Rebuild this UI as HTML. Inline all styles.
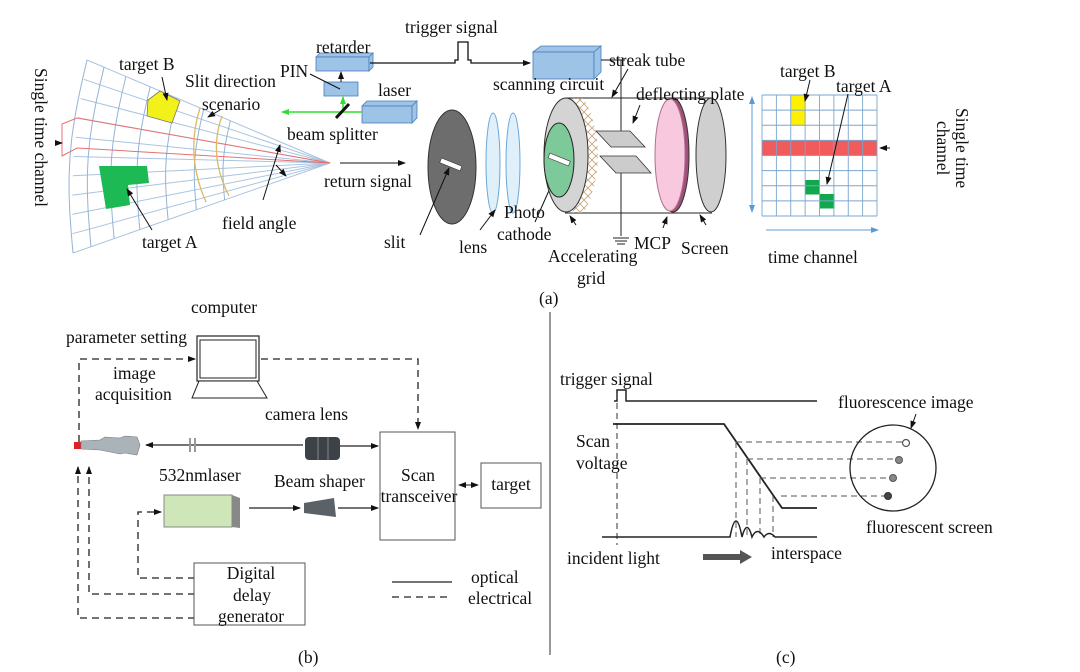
<!DOCTYPE html>
<html><head><meta charset="utf-8"><style>
html,body{margin:0;padding:0;background:#fff;}
svg{display:block;font-family:"Liberation Serif",serif;}
text{font-size:17.5px;fill:#111;}
</style></head><body>
<svg id="s" width="1080" height="672" viewBox="0 0 1080 672" xmlns="http://www.w3.org/2000/svg">
<defs>
<marker id="ah" markerWidth="8" markerHeight="8" refX="7" refY="4" orient="auto" markerUnits="userSpaceOnUse"><path d="M0,1 L8,4 L0,7z" fill="#111"/></marker>
<marker id="ahs" markerWidth="8" markerHeight="8" refX="1" refY="4" orient="auto" markerUnits="userSpaceOnUse"><path d="M8,1 L0,4 L8,7z" fill="#111"/></marker>
<marker id="ag" markerWidth="8" markerHeight="8" refX="7" refY="4" orient="auto" markerUnits="userSpaceOnUse"><path d="M0,1 L8,4 L0,7z" fill="#2ee02e"/></marker>
<marker id="ab" markerWidth="8" markerHeight="8" refX="7" refY="4" orient="auto" markerUnits="userSpaceOnUse"><path d="M0,1 L8,4 L0,7z" fill="#5b9bd5"/></marker>
<pattern id="hatch" width="8" height="8" patternUnits="userSpaceOnUse"><path d="M0,0 L8,8 M8,0 L0,8" stroke="#c8a27a" stroke-width="0.8"/></pattern>
</defs>
<g id="fan" fill="none" stroke="#a9c4e0" stroke-width="1"></g>
<polygon points="148,100 160,91 180,101 172,123 147,116" fill="#f2f21a" stroke="#777" stroke-width="0.8"/>
<polygon points="99,166 147,166 149,183 128,185 130,205 106,209" fill="#1db954"/>
<path d="M330,163 L77,118 L62,124 L62,156 L77,148 L330,163 Z" fill="none" stroke="#e87070" stroke-width="1"/>
<path d="M200,108 Q185,155 206,202 M222,116 Q208,155 229,196" fill="none" stroke="#e0b860" stroke-width="1.3"/>
<line x1="55" y1="143" x2="62" y2="143" stroke="#111" marker-end="url(#ah)"/>
<text x="119" y="70">target B</text>
<line x1="162" y1="77" x2="167" y2="100" stroke="#111" marker-end="url(#ah)"/>
<text x="185" y="87">Slit direction</text>
<text x="202" y="110">scenario</text>
<line x1="220" y1="110" x2="208" y2="117" stroke="#111" marker-end="url(#ah)"/>
<text x="222" y="229">field angle</text>
<line x1="263" y1="200" x2="280" y2="145" stroke="#111" marker-end="url(#ah)"/>
<line x1="276" y1="165" x2="286" y2="176" stroke="#111" marker-end="url(#ah)"/>
<text x="142" y="248">target A</text>
<line x1="152" y1="230" x2="127" y2="189" stroke="#111" marker-end="url(#ah)"/>
<text transform="translate(35,68) rotate(90)">Single time channel</text>
<g fill="#9dc3e6" stroke="#4a7ebb" stroke-width="0.8">
<path d="M316,57 L320,53 L373,53 L369,57z"/><rect x="316" y="57" width="53" height="14"/><path d="M369,57 L373,53 L373,67 L369,71z"/>
<rect x="324" y="82" width="34" height="14"/>
<path d="M362,106 L367,101 L417,101 L412,106z"/><rect x="362" y="106" width="50" height="17"/><path d="M412,106 L417,101 L417,118 L412,123z"/>
<path d="M533,52 L541,46 L601,46 L594,52z"/><rect x="533" y="52" width="61" height="27"/><path d="M594,52 L601,46 L601,72 L594,79z"/>
</g>
<text x="316" y="53">retarder</text>
<text x="280" y="77">PIN</text>
<line x1="310" y1="74" x2="340" y2="89" stroke="#111"/>
<line x1="341" y1="82" x2="341" y2="72" stroke="#111" marker-end="url(#ah)"/>
<text x="378" y="96">laser</text>
<line x1="362" y1="112" x2="282" y2="112" stroke="#2ee02e" stroke-width="1.5" marker-end="url(#ag)"/>
<line x1="343" y1="112" x2="343" y2="97" stroke="#2ee02e" stroke-width="1.5" marker-end="url(#ag)"/>
<line x1="336" y1="118" x2="349" y2="104" stroke="#111" stroke-width="3"/>
<text x="287" y="140">beam splitter</text>
<line x1="340" y1="163" x2="405" y2="163" stroke="#111" marker-end="url(#ah)"/>
<text x="324" y="187">return signal</text>
<text x="405" y="33">trigger signal</text>
<polyline points="370,63 455,63 455,60 458,60 458,42 468,42 468,60 471,60 471,63 530,63" fill="none" stroke="#111" stroke-width="1.3" marker-end="url(#ah)"/>
<line x1="601" y1="60" x2="625" y2="60" stroke="#111"/>
<text x="493" y="90">scanning circuit</text>
<text x="609" y="66">streak tube</text>
<line x1="628" y1="69" x2="612" y2="97" stroke="#111" marker-end="url(#ah)"/>
<ellipse cx="452" cy="167" rx="24" ry="57" fill="#6d6d6d" stroke="#333"/>
<rect x="440" y="162" width="22" height="5" fill="#fff" stroke="#333" stroke-width="0.6" transform="rotate(22 451 164)"/>
<line x1="420" y1="235" x2="449" y2="168" stroke="#111" marker-end="url(#ah)"/>
<text x="384" y="248">slit</text>
<ellipse cx="493" cy="163" rx="7" ry="50" fill="#dff0fb" stroke="#6aa8d8"/>
<ellipse cx="513" cy="163" rx="7" ry="50" fill="#dff0fb" stroke="#6aa8d8"/>
<text x="459" y="253">lens</text>
<line x1="480" y1="230" x2="495" y2="210" stroke="#111" marker-end="url(#ah)"/>
<text x="504" y="218">Photo</text>
<text x="497" y="240">cathode</text>
<line x1="535" y1="222" x2="555" y2="177" stroke="#111" marker-end="url(#ah)"/>
<line x1="565" y1="98" x2="712" y2="98" stroke="#222"/>
<line x1="565" y1="213" x2="712" y2="213" stroke="#222"/>
<path d="M572,98 Q600,155 572,213 L584,213 Q612,155 584,98z" fill="url(#hatch)"/>
<ellipse cx="566" cy="155" rx="22" ry="57" fill="#d4d4d4" stroke="#333"/>
<ellipse cx="559" cy="160" rx="15" ry="37" fill="#7ec99a" stroke="#222"/>
<rect x="548" y="157" width="22" height="5" fill="#fff" stroke="#333" stroke-width="0.6" transform="rotate(22 559 160)"/>
<line x1="621" y1="60" x2="621" y2="138" stroke="#222"/>
<line x1="621" y1="172" x2="621" y2="236" stroke="#222"/>
<path d="M613,238 h16 M615,241 h12 M617,244 h8" stroke="#222"/>
<polygon points="596,131 630,131 645,147 611,147" fill="#ccc" stroke="#333" stroke-width="0.8"/>
<polygon points="600,156 636,156 651,173 616,173" fill="#ccc" stroke="#333" stroke-width="0.8"/>
<ellipse cx="673" cy="155" rx="16" ry="57" fill="#a05078" stroke="#333"/>
<ellipse cx="670" cy="155" rx="15" ry="56" fill="#f7c8de" stroke="#b07090"/>
<ellipse cx="711" cy="155" rx="15" ry="57" fill="#cfcfcf" stroke="#333"/>
<text x="636" y="100">deflecting plate</text>
<line x1="640" y1="105" x2="633" y2="123" stroke="#111" marker-end="url(#ah)"/>
<text x="634" y="249">MCP</text>
<line x1="663" y1="228" x2="667" y2="217" stroke="#111" marker-end="url(#ah)"/>
<text x="681" y="254">Screen</text>
<line x1="706" y1="225" x2="700" y2="215" stroke="#111" marker-end="url(#ah)"/>
<text x="548" y="262">Accelerating</text>
<text x="577" y="284">grid</text>
<line x1="576" y1="225" x2="570" y2="216" stroke="#111" marker-end="url(#ah)"/>
<text x="539" y="304">(a)</text>
<rect x="791" y="95" width="14.5" height="30" fill="#ffef00"/>
<rect x="762" y="140" width="115" height="15" fill="#f15b5b"/>
<rect x="805" y="180" width="14.5" height="14.5" fill="#10a84a"/>
<rect x="820" y="194" width="14.5" height="14.5" fill="#10a84a"/>
<g id="rg" stroke="#7aa6cf" stroke-width="0.9" fill="none"></g>
<line x1="752" y1="100" x2="752" y2="212" stroke="#5b9bd5" marker-end="url(#ab)"/>
<line x1="752" y1="105" x2="752" y2="97" stroke="#5b9bd5" marker-end="url(#ab)"/>
<line x1="766" y1="230" x2="878" y2="230" stroke="#5b9bd5" marker-end="url(#ab)"/>
<text x="768" y="263">time channel</text>
<text x="780" y="77">target B</text>
<line x1="810" y1="80" x2="805" y2="101" stroke="#111" marker-end="url(#ah)"/>
<text x="836" y="92">target A</text>
<line x1="848" y1="94" x2="827" y2="184" stroke="#111" marker-end="url(#ah)"/>
<line x1="890" y1="148" x2="880" y2="148" stroke="#111" marker-end="url(#ah)"/>
<text transform="translate(956,108) rotate(90)">Single time</text>
<text transform="translate(937,121) rotate(90)">channel</text>
<line x1="550" y1="312" x2="550" y2="655" stroke="#555" stroke-width="1.2"/>
<text x="191" y="313">computer</text>
<text x="66" y="343">parameter setting</text>
<text x="113" y="379">image</text>
<text x="95" y="400">acquisition</text>
<rect x="197" y="336" width="62" height="45" fill="#fff" stroke="#222" stroke-width="1.2"/>
<rect x="200" y="340" width="56" height="38" fill="none" stroke="#222"/>
<polygon points="199,381 257,381 267,398 192,398" fill="#fff" stroke="#222"/>
<g stroke="#222" stroke-width="1.3" stroke-dasharray="7,5" fill="none">
<polyline points="79,442 79,359 195,359" marker-end="url(#ah)"/>
<polyline points="261,359 418,359 418,429" marker-end="url(#ah)"/>
<polyline points="195,578 138,578 138,512 161,512" marker-end="url(#ah)"/>
<polyline points="195,594 89,594 89,467" marker-end="url(#ah)"/>
<polyline points="195,618 78,618 78,467" marker-end="url(#ah)"/>
<line x1="392" y1="597" x2="452" y2="597"/>
</g>
<rect x="74" y="442" width="7" height="7" fill="#e02020"/>
<path d="M81,441 L100,440 L105,437 L120,438 L125,436 L137,437 L140,445 L137,455 L125,453 L120,454 L105,451 L100,450 L81,449z" fill="#aab4b8" stroke="#778" stroke-width="0.6"/>
<line x1="303" y1="445" x2="146" y2="445" stroke="#222" stroke-width="1.2" marker-end="url(#ah)"/>
<rect x="189" y="438" width="2" height="14" fill="#999"/><rect x="194" y="438" width="2" height="14" fill="#999"/>
<rect x="305" y="437" width="35" height="23" rx="4" fill="#3c4248"/>
<line x1="318" y1="437" x2="318" y2="460" stroke="#888"/><line x1="328" y1="437" x2="328" y2="460" stroke="#888"/>
<line x1="340" y1="446" x2="378" y2="446" stroke="#222" stroke-width="1.2" marker-end="url(#ah)"/>
<text x="265" y="420">camera lens</text>
<text x="159" y="481">532nmlaser</text>
<text x="274" y="487">Beam shaper</text>
<rect x="164" y="495" width="68" height="32" fill="#cfe6b8" stroke="#888"/>
<path d="M232,495 L240,498 L240,528 L232,527z" fill="#888"/>
<line x1="249" y1="508" x2="300" y2="508" stroke="#222" stroke-width="1.2" marker-end="url(#ah)"/>
<path d="M304,503 L334,498 L336,517 L304,513z" fill="#5a6268"/>
<line x1="338" y1="508" x2="378" y2="508" stroke="#222" stroke-width="1.2" marker-end="url(#ah)"/>
<rect x="380" y="432" width="75" height="108" fill="#fff" stroke="#555"/>
<text x="418" y="481" text-anchor="middle">Scan</text>
<text x="419" y="502" text-anchor="middle">transceiver</text>
<rect x="481" y="463" width="60" height="45" fill="#fff" stroke="#555"/>
<text x="511" y="490" text-anchor="middle">target</text>
<line x1="459" y1="485" x2="478" y2="485" stroke="#111" marker-start="url(#ahs)" marker-end="url(#ah)"/>
<rect x="194" y="563" width="111" height="62" fill="#fff" stroke="#555"/>
<text x="251" y="579" text-anchor="middle">Digital</text>
<text x="252" y="601" text-anchor="middle">delay</text>
<text x="251" y="622" text-anchor="middle">generator</text>
<line x1="392" y1="582" x2="452" y2="582" stroke="#222" stroke-width="1.3"/>
<text x="471" y="583">optical</text>
<text x="468" y="604">electrical</text>
<text x="298" y="663">(b)</text>
<text x="560" y="385">trigger signal</text>
<polyline points="614,401 617,401 617,390 626,390 626,401 817,401" fill="none" stroke="#222" stroke-width="1.5"/>
<line x1="617" y1="393" x2="617" y2="545" stroke="#333" stroke-dasharray="6,4"/>
<polyline points="613,424 724,424 782,508 817,508" fill="none" stroke="#222" stroke-width="1.8"/>
<text x="576" y="447">Scan</text>
<text x="576" y="469">voltage</text>
<g stroke="#555" stroke-dasharray="6,4" fill="none">
<line x1="736" y1="442" x2="902" y2="442"/>
<line x1="747" y1="459" x2="896" y2="459"/>
<line x1="760" y1="478" x2="890" y2="478"/>
<line x1="781" y1="496" x2="884" y2="496"/>
<line x1="736" y1="442" x2="736" y2="537"/>
<line x1="747" y1="459" x2="747" y2="537"/>
<line x1="760" y1="478" x2="760" y2="537"/>
<line x1="773" y1="496" x2="773" y2="537"/>
</g>
<path d="M602,537 L730,537 Q736,505 742,537 Q747,518 752,537 Q757,526 764,537 Q769,530 775,537 L817,537" fill="none" stroke="#222" stroke-width="1.5"/>
<text x="567" y="564">incident light</text>
<path d="M703,554 L740,554 L740,550 L752,557 L740,564 L740,560 L703,560z" fill="#555"/>
<text x="771" y="559">interspace</text>
<circle cx="893" cy="468" r="43" fill="none" stroke="#222" stroke-width="1.3"/>
<circle cx="906" cy="443" r="3.5" fill="#fff" stroke="#555" stroke-width="1.2"/>
<circle cx="899" cy="460" r="3.5" fill="#888" stroke="#555"/>
<circle cx="893" cy="478" r="3.5" fill="#888" stroke="#555"/>
<circle cx="888" cy="496" r="3.5" fill="#444" stroke="#333"/>
<text x="838" y="408">fluorescence image</text>
<line x1="916" y1="414" x2="911" y2="428" stroke="#111" marker-end="url(#ah)"/>
<text x="866" y="533">fluorescent screen</text>
<text x="776" y="663">(c)</text>
</svg>
<script>
(function(){
var NS="http://www.w3.org/2000/svg";
var g=document.getElementById("fan");
var ax=330,ay=163,N=10,P=[];
for(var i=0;i<=N;i++){var y=60+i*19.3;var x=87-(i/N)*14-6*Math.sin(Math.PI*i/N);P.push([x,y]);}
function pt(t,i){return [ax+t*(P[i][0]-ax),ay+t*(P[i][1]-ay)];}
for(var i=0;i<=N;i++){var l=document.createElementNS(NS,"line");l.setAttribute("x1",ax);l.setAttribute("y1",ay);l.setAttribute("x2",P[i][0]);l.setAttribute("y2",P[i][1]);g.appendChild(l);}
var ts=[1,0.93,0.84,0.74,0.63,0.52,0.41];
ts.forEach(function(t){var s="";for(var i=0;i<=N;i++){var p=pt(t,i);var b=4*t*Math.sin(Math.PI*i/N);s+=(p[0]-b)+","+p[1]+" ";}
var pl=document.createElementNS(NS,"polyline");pl.setAttribute("points",s);pl.setAttribute("stroke","#93b3d6");g.appendChild(pl);});
var rg=document.getElementById("rg");
var x0=762,y0=95,w=115,h=121;
for(var k=0;k<=8;k++){var a=document.createElementNS(NS,"line");a.setAttribute("x1",x0+k*w/8);a.setAttribute("x2",x0+k*w/8);a.setAttribute("y1",y0);a.setAttribute("y2",y0+h);rg.appendChild(a);
var b=document.createElementNS(NS,"line");b.setAttribute("y1",y0+k*h/8);b.setAttribute("y2",y0+k*h/8);b.setAttribute("x1",x0);b.setAttribute("x2",x0+w);rg.appendChild(b);}
})();
</script>
</body></html>
